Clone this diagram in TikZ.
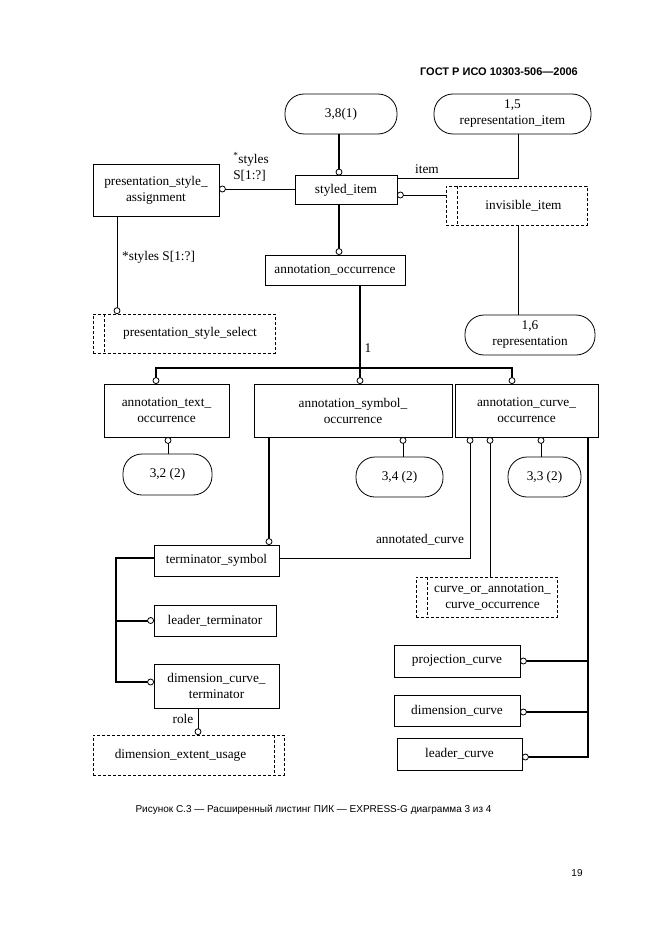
\documentclass[tikz,border=0pt]{standalone}
\usepackage{fontspec}
\setmainfont{Liberation Serif}
\newfontfamily\gostsans{Liberation Sans}
\newcommand{\diagfont}{\fontsize{13.3}{16}\selectfont}
\newcommand{\ring}[1]{\draw[ringline] (#1) circle (3pt);}
\tikzset{
  entity/.style={draw, line width=0.8pt, inner sep=0pt, align=center, font=\diagfont},
  pageref/.style={entity, rounded corners=19pt},
  selectbox/.style={draw, line width=0.6pt, dash pattern=on 3pt off 2pt, inner sep=0pt,
    align=center, font=\diagfont,
    path picture={\draw[line width=0.6pt, dash pattern=on 3pt off 2pt]
      ([xshift=11pt]path picture bounding box.north west) --
      ([xshift=11pt]path picture bounding box.south west);}},
  selectboxr/.style={selectbox, path picture={\draw[line width=0.6pt, dash pattern=on 3pt off 2pt]
      ([xshift=-10pt]path picture bounding box.north east) --
      ([xshift=-10pt]path picture bounding box.south east);}},
  seltext/.style args={#1:#2}{label={[font=\diagfont, align=center, xshift=#1pt]center:{#2}}},
  rel/.style={line width=0.8pt},
  sub/.style={line width=2pt},
  ringline/.style={line width=0.8pt, fill=white},
  lab/.style={font=\diagfont, inner sep=0pt},
}

\begin{document}
\begin{tikzpicture}[x=1pt,y=-1pt]
  \useasboundingbox (0,0) rectangle (661,936);
  \node[font=\gostsans\fontsize{11}{13}\selectfont\bfseries] (head) at (499,72) {ГОСТ Р ИСО 10303-506—2006};

  % entities and page references
  \node[pageref, minimum width=112pt, minimum height=40pt] (ref381) at (341,114) {3,8(1)};
  \node[pageref, minimum width=157pt, minimum height=40pt] (ref15) at (512.5,114) {1,5\\representation\_item};
  \node[entity, minimum width=102pt, minimum height=29pt] (styled) at (346,190) {styled\_item};
  \node[entity, minimum width=126pt, minimum height=52pt] (psa) at (156,190) {presentation\_style\_\\assignment};
  \node[selectbox, minimum width=141pt, minimum height=39pt, seltext={7:invisible\_item}] (invis) at (516.5,205.5) {};
  \node[selectbox, minimum width=182pt, minimum height=39pt, seltext={6:presentation\_style\_select}] (pss) at (184,333.5) {};
  \node[entity, minimum width=140pt, minimum height=30pt] (ao) at (335,270) {annotation\_occurrence};
  \node[pageref, minimum width=130pt, minimum height=40pt] (rep16) at (530,335) {1,6\\representation};
  \node[entity, minimum width=125pt, minimum height=53pt] (ato) at (166.5,410.5) {annotation\_text\_\\occurrence};
  \node[entity, minimum width=198pt, minimum height=53pt] (aso) at (353,410.5) {annotation\_symbol\_\\occurrence};
  \node[entity, minimum width=143pt, minimum height=53pt] (aco) at (526.5,410.5) {annotation\_curve\_\\occurrence};
  \node[pageref, minimum width=89pt, minimum height=41pt] (r32) at (167.5,474.5) {3,2 (2)};
  \node[pageref, minimum width=87pt, minimum height=40pt] (r34) at (399.5,477) {3,4 (2)};
  \node[pageref, minimum width=73pt, minimum height=40pt] (r33) at (544.5,477) {3,3 (2)};
  \node[entity, minimum width=125pt, minimum height=31pt] (ts) at (216.5,560.5) {terminator\_symbol};
  \node[entity, minimum width=122pt, minimum height=31pt] (lt) at (215,620.5) {leader\_terminator};
  \node[entity, minimum width=125pt, minimum height=44pt] (dct) at (216.5,686) {dimension\_curve\_\\terminator};
  \node[selectboxr, minimum width=191pt, minimum height=40pt, seltext={-8:dimension\_extent\_usage}] (deu) at (188.5,755) {};
  \node[selectbox, minimum width=141pt, minimum height=40pt, seltext={6:curve\_or\_annotation\_\\curve\_occurrence}] (coaco) at (486.5,597) {};
  \node[entity, minimum width=126pt, minimum height=32pt] (pc) at (457,661) {projection\_curve};
  \node[entity, minimum width=126pt, minimum height=31pt] (dc) at (457,710.5) {dimension\_curve};
  \node[entity, minimum width=125pt, minimum height=32pt] (lc) at (459.5,754) {leader\_curve};

  % ring positions
  \coordinate (r1) at ([xshift=-7pt,yshift=3pt]styled.north);
  \coordinate (r2) at ([xshift=3pt,yshift=-5pt]styled.east);
  \coordinate (r3) at ([xshift=3pt,yshift=1pt]psa.east);
  \coordinate (r4) at ([xshift=-67pt,yshift=3pt]pss.north);
  \coordinate (r5) at ([xshift=4pt,yshift=3pt]ao.north);
  \coordinate (r6) at ([xshift=-10.5pt,yshift=3pt]ato.north);
  \coordinate (r7) at ([xshift=7pt,yshift=3pt]aso.north);
  \coordinate (r8) at ([xshift=-14.5pt,yshift=3pt]aco.north);
  \coordinate (r9) at ([xshift=1.5pt,yshift=-3pt]ato.south);
  \coordinate (r10) at ([xshift=50pt,yshift=-3pt]aso.south);
  \coordinate (r11) at ([xshift=14.5pt,yshift=-3pt]aco.south);
  \coordinate (r12) at ([xshift=52.5pt,yshift=3pt]ts.north);
  \coordinate (r13) at ([xshift=-56.5pt,yshift=-3pt]aco.south);
  \coordinate (r14) at ([xshift=-36.5pt,yshift=-3pt]aco.south);
  \coordinate (r15) at ([xshift=3pt]pc.east);
  \coordinate (r16) at ([xshift=3pt,yshift=-1.5pt]dc.east);
  \coordinate (r17) at ([xshift=3pt,yshift=-3pt]lc.east);
  \coordinate (r18) at ([xshift=-3pt]lt.west);
  \coordinate (r19) at ([xshift=-3pt,yshift=4pt]dct.west);
  \coordinate (r20) at ([xshift=9.5pt,yshift=3pt]deu.north);
  \coordinate (trunk) at ([xshift=61.5pt]aco.south);
  \coordinate (brace) at ([xshift=-38pt,yshift=2.5pt]ts.west);

  % connectors
  \draw[sub] (ref381.south -| r1) -- (r1);
  \draw[rel] ([yshift=-3.5pt]styled.north east) -| ([xshift=5.5pt]ref15.south);
  \node[lab] (litem) at (427,169) {item};
  \draw[rel] (r2) -- (r2 -| invis.west);
  \draw[rel] ([xshift=1.5pt]invis.south) -- ([xshift=1.5pt]invis.south |- rep16.north);
  \draw[rel] (r3) -- (r3 -| styled.west);
  \node[lab, align=left] (lstyles) at (251,167) {\textsuperscript{*}styles\\S[1:?]};
  \draw[rel] (psa.south -| r4) -- (r4);
  \node[lab, anchor=west] (lstyles2) at (122,257) {*styles S[1:?]};
  \draw[sub] (styled.south -| r5) -- (r5);
  \draw[sub] (ao.south -| r7) -- (r7);
  \draw[sub] (r6) -- ++(0,-13) -| (r8);
  \node[lab] (lone) at (368,348) {1};
  \draw[rel] (r9) -- (r9 |- r32.north);
  \draw[rel] (r10) -- (r10 |- r34.north);
  \draw[rel] (r11) -- (r11 |- r33.north);
  \draw[sub] (aso.south -| r12) -- (r12);
  \draw[rel] (r13) |- ([yshift=2.5pt]ts.east);
  \node[lab] (lcurve) at (420,540) {annotated\_curve};
  \draw[rel] (r14) -- (r14 |- coaco.north);
  \draw[sub] (trunk) |- (r17);
  \draw[sub] (r15) -- (r15 -| trunk);
  \draw[sub] (r16) -- (r16 -| trunk);
  \draw[sub] ([yshift=2.5pt]ts.west) -- (brace) |- (r19);
  \draw[sub] (brace |- r18) -- (r18);
  \draw[rel] (dct.south -| r20) -- (r20);
  \node[lab] (lrole) at (183,719) {role};

  \foreach \r in {r1,r2,r3,r4,r5,r6,r7,r8,r9,r10,r11,r12,r13,r14,r15,r16,r17,r18,r19,r20}
    {\ring{\r}}

  \node[font=\gostsans\fontsize{10}{12}\selectfont] (caption) at (313.5,810)
    {Рисунок С.3 — Расширенный листинг ПИК — EXPRESS-G диаграмма 3 из 4};
  \node[font=\gostsans\fontsize{10}{12}\selectfont] (pageno) at (577,873) {19};
\end{tikzpicture}
\end{document}
